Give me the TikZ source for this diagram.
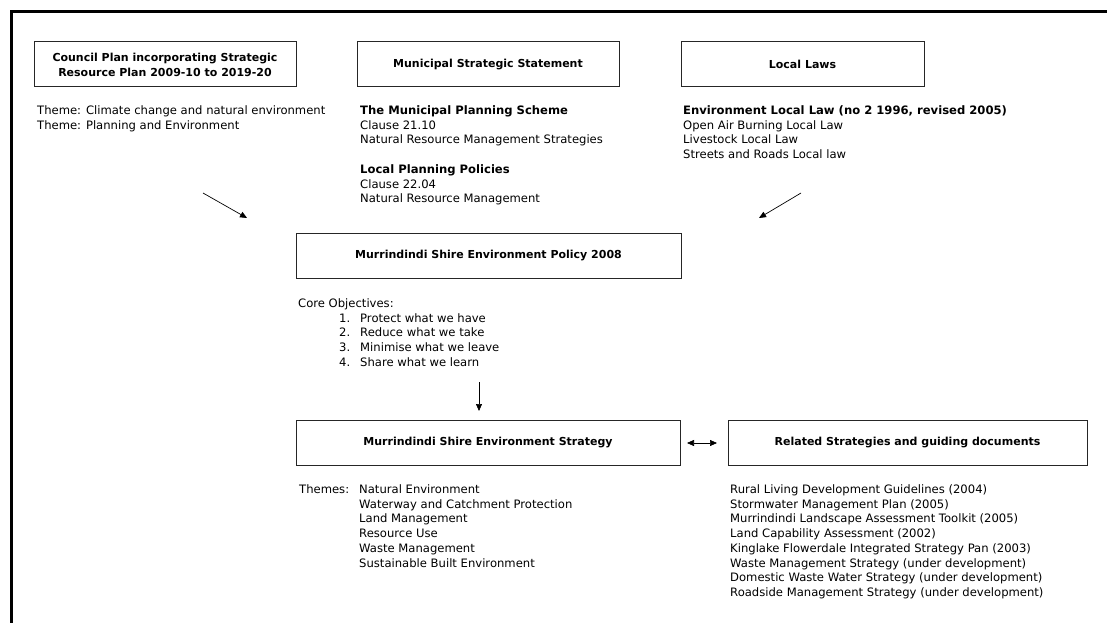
\documentclass[tikz,border=0pt]{standalone}
\usepackage{fontspec}
\setmainfont{DejaVu Sans}
\usetikzlibrary{arrows.meta}
\tikzstyle{titlebox}=[draw=black!85,line width=1pt,minimum height=45pt,inner sep=0pt,align=center,font=\bfseries\fontsize{11}{15}\selectfont]
\tikzstyle{list}=[anchor=north west,inner sep=0pt,align=left,font=\fontsize{11.6}{14.7}\selectfont]
\tikzstyle{link}=[line width=0.7pt,-{Triangle[length=7pt,width=6pt]}]

\begin{document}
\begin{tikzpicture}[x=1pt,y=-1pt]
        \useasboundingbox (0,0) rectangle (1107,623);
        \draw[line width=3.5pt] (11.5,623) -- (11.5,11.5) -- (1107,11.5);
        % boxes
        \node[titlebox,minimum width=262pt] (council) at (165,64.5) {Council Plan incorporating Strategic\\Resource Plan 2009-10 to 2019-20};
        \node[titlebox,minimum width=262pt] (mss) at (488,64.5) {Municipal Strategic Statement};
        \node[titlebox,minimum width=243pt] (laws) at (802.5,64.5) {Local Laws};
        \node[titlebox,minimum width=385pt] (policy) at (488.5,256) {Murrindindi Shire Environment Policy 2008};
        \node[titlebox,minimum width=384pt] (strategy) at (488,443) {Murrindindi Shire Environment Strategy};
        \node[titlebox,minimum width=359pt] (related) at (907.5,443) {Related Strategies and guiding documents};
        % texts
        \node[list] (themes) at (37,105.5) {Theme: Climate change and natural environment\\Theme: Planning and Environment};
        \node[list] (scheme) at (360,105.5) {\textbf{The Municipal Planning Scheme}\\Clause 21.10\\Natural Resource Management Strategies};
        \node[list] (lpp) at (360,164.5) {\textbf{Local Planning Policies}\\Clause 22.04\\Natural Resource Management};
        \node[list] (lawlist) at (683,105.5) {\textbf{Environment Local Law (no 2 1996, revised 2005)}\\Open Air Burning Local Law\\Livestock Local Law\\Streets and Roads Local law};
        \node[list] (core) at (298,298.5) {Core Objectives:\\
            \hspace*{41pt}\makebox[21pt][l]{1.}Protect what we have\\
            \hspace*{41pt}\makebox[21pt][l]{2.}Reduce what we take\\
            \hspace*{41pt}\makebox[21pt][l]{3.}Minimise what we leave\\
            \hspace*{41pt}\makebox[21pt][l]{4.}Share what we learn};
        \node[list] (themelist) at (299,484.5) {\makebox[60pt][l]{Themes:}Natural Environment\\
            \hspace*{60pt}Waterway and Catchment Protection\\
            \hspace*{60pt}Land Management\\
            \hspace*{60pt}Resource Use\\
            \hspace*{60pt}Waste Management\\
            \hspace*{60pt}Sustainable Built Environment};
        \node[list] (docs) at (730,484.5) {Rural Living Development Guidelines (2004)\\
            Stormwater Management Plan (2005)\\
            Murrindindi Landscape Assessment Toolkit (2005)\\
            Land Capability Assessment (2002)\\
            Kinglake Flowerdale Integrated Strategy Pan (2003)\\
            Waste Management Strategy (under development)\\
            Domestic Waste Water Strategy (under development)\\
            Roadside Management Strategy (under development)};
        % arrows
        \coordinate (lt) at (203,193);
        \coordinate (lh) at (247,218);
        \coordinate (rt) at (801,193);
        \coordinate (rh) at (759,218);
        \coordinate (dt) at (479,382);
        \coordinate (dh) at (479,411);
        \coordinate (da) at (687,443);
        \coordinate (db) at (717,443);
        \draw[link] (lt) -- (lh);
        \draw[link] (rt) -- (rh);
        \draw[link] (dt) -- (dh);
        \draw[link,{Triangle[length=7pt,width=6pt]}-{Triangle[length=7pt,width=6pt]}] (da) -- (db);
    \end{tikzpicture}
\end{document}
